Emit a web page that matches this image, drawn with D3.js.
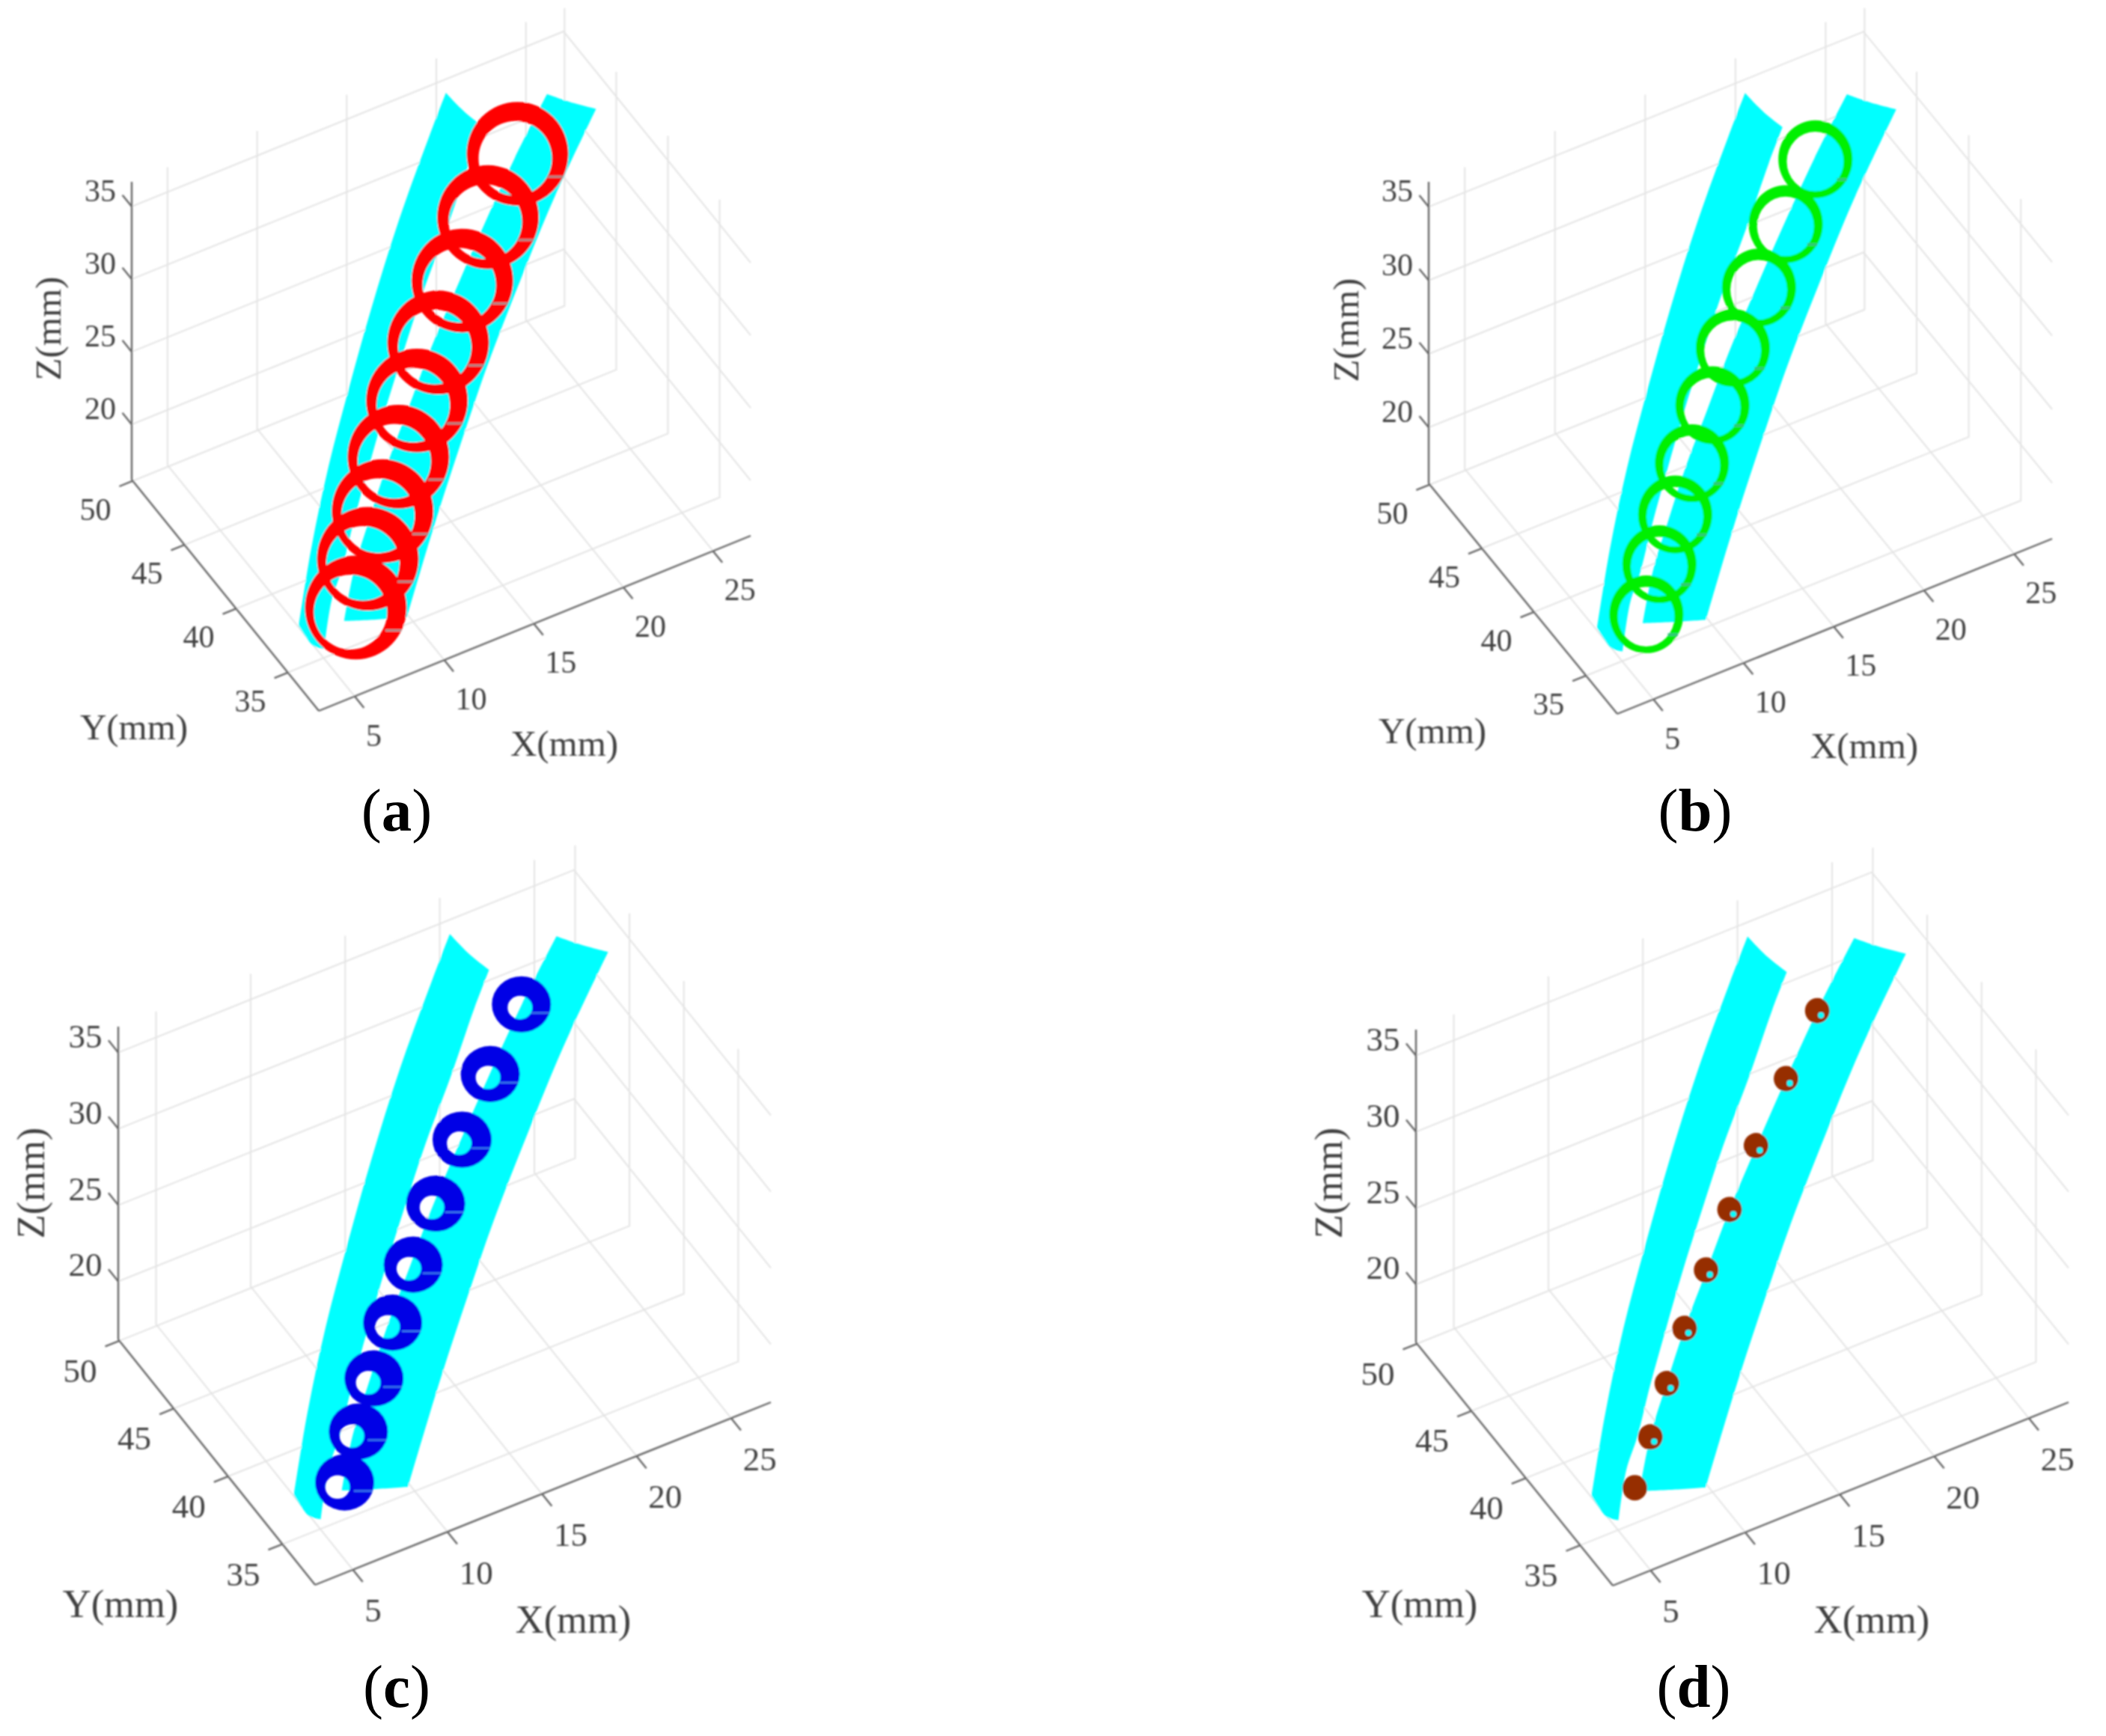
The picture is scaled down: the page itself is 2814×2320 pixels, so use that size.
<!DOCTYPE html>
<html>
<head>
<meta charset="utf-8">
<script src="https://cdn.jsdelivr.net/npm/d3@7"></script>
<style>
  html, body { margin: 0; padding: 0; background: #fff; }
  text { font-family: "Liberation Serif", serif; fill: #404040; }
</style>
</head>
<body>
<div class="chart"></div>
<script>
/* globals d3 */
// axis ticks, same for the four panels
const xTicks = [5, 10, 15, 20, 25];
const yTicks = [35, 40, 45, 50];
const zTicks = [20, 25, 30, 35];
const xDomain = [3, 27.1];
const yDomain = [32, 50.1];
const zDomain = [16.2, 36.7];

// the two cyan strips, [X, Y, Z] in mm. each edge is its own list
const leftOuter = [
  [19.9, 49, 35.35], [18.4, 48, 34], [15.55, 46, 31.4], [12.55, 43.5, 28.95],
  [9.55, 40.5, 27.5], [7.3, 38.5, 25.2], [4.9, 36, 23], [3.03, 34, 20.3]
];
const leftFoot = [[3.03, 34, 20.3], [3.4, 34, 19.4], [3.85, 34, 18.5], [4.45, 34, 18]];
const leftInner = [
  [4.45, 34, 18], [5.15, 34.5, 20.5], [6.3, 35.5, 21.2], [7.85, 37, 22.5], [9.55, 38.5, 24.05],
  [11.3, 40, 25.65], [13.2, 41.5, 27.45], [15.45, 43.5, 28.7], [17.65, 45, 30.7],
  [20.05, 47, 32.2], [21.4, 48, 33.15]
];
const leftCap = [[21.4, 48, 33.15], [20.65, 48.5, 34.1], [19.9, 49, 35.35]];

const rightOuter = [
  [26.55, 46, 33.55], [22.7, 43.5, 31.35], [19.4, 41, 29.6], [16.45, 39, 27.1],
  [13.9, 37, 25.1], [11.45, 35, 23.2], [9.2, 33, 21.65], [8.2, 32.5, 19.6]
];
const rightFoot = [[8.2, 32.5, 19.6], [6.5, 32.5, 20.3], [4.7, 32.5, 21.1]];
const rightInner = [
  [4.7, 32.5, 21.1], [5.85, 33.5, 23.25], [7.25, 34.5, 25], [9.1, 36, 26.5], [11.1, 37.5, 27.9],
  [13.2, 39, 29.6], [15.75, 41, 30.65], [18.2, 42.5, 32.6], [21.15, 44.5, 34.2], [24.1, 46.5, 35.35]
];
const rightCap = [[24.1, 46.5, 35.35], [25.4, 46.5, 34.15], [26.55, 46, 33.55]];

// spot centres along the seam, one list per panel
const spotsA = [
  [5.35, 32.5, 21.7], [6.6, 33.5, 23.55], [8, 34.5, 25.25], [9.75, 36, 26.8], [11.65, 37.5, 28.4],
  [13.7, 39, 30.05], [16.2, 41, 31.3], [18.5, 42.5, 33.2], [21.3, 44.5, 34.4]
];
const spotsB = [
  [4.9, 32.5, 21.6], [6.2, 33.5, 23.5], [7.65, 34.5, 25.3], [9.45, 36, 26.6], [11.45, 37.5, 28.25],
  [13.45, 39, 29.85], [16.05, 41, 30.95], [18.4, 42.5, 32.8], [21.2, 44.5, 34.1]
];
const spotsC = [
  [4.85, 32.5, 21.55], [6.15, 33.5, 23.35], [7.55, 34.5, 25.25], [9.4, 36, 26.65], [11.35, 37.5, 28.15],
  [13.4, 39, 29.8], [15.95, 41, 30.95], [18.3, 42.5, 32.75], [21.1, 44.5, 34.15]
];
const spotsD = [
  [4.45, 32.5, 21.45], [5.85, 33.5, 23.2], [7.3, 34.5, 25.1], [9.1, 36, 26.5], [11.1, 37.5, 28],
  [13.2, 39, 29.6], [15.75, 41, 30.75], [18.2, 42.5, 32.6], [21, 44.5, 33.9]
];
// how far the hole sits off centre, bottom spot to top spot
const holeLean = [1, 0.88, 0.75, 0.63, 0.5, 0.38, 0.25, 0.13, 0];

const width = 2814,
  height = 2320;

// front: corner of the floor, xv/yv/zv: where the full axis range ends up, in px
const panels = [
  {
    name: "a", spots: spotsA, color: "#ff0000", seam: "#b08a8a", seamWidth: 3, R: 68, ky: 1.02, r: 49, base: [-3, 6], lean: [-4, 0], seamY: 30,
    front: [426, 950], xv: [577, -234], yv: [-250, -309], zv: [0, -398], tickSize: 42, titleSize: 49,
    xTitle: [754, 993], yTitle: [179, 971], zTitle: [64, 439], tag: [530, 1083], k: 1
  },
  {
    name: "b", spots: spotsB, color: "#00f000", seam: "#30c878", seamWidth: 4, R: 49.5, ky: 1.05, r: 38, base: [-0.3, 3], lean: [0, 0], seamY: 26,
    front: [2161, 954], xv: [581, -234], yv: [-252, -308], zv: [0, -403], tickSize: 42, titleSize: 49,
    xTitle: [2491, 996], yTitle: [1914, 976], zTitle: [1798, 441], tag: [2265, 1083], k: 1
  },
  {
    name: "c", spots: spotsC, color: "#0000e6", seam: "#3a7ae8", seamWidth: 2.5, R: 39.5, ky: 0.95, r: 16.5, base: [-2, 4.5], lean: [-7.5, 2], seamY: 12,
    front: [421, 2118], xv: [609, -244], yv: [-263, -328], zv: [0, -418], tickSize: 45, titleSize: 52.5,
    xTitle: [766, 2164], yTitle: [161, 2143], zTitle: [41, 1581], tag: [530, 2254], k: 1.05
  },
  {
    name: "d", spots: spotsD, color: "#962d02", R: 16.5, ky: 1.03, r: 4, base: [5, 6], lean: [0, 0],
    front: [2155, 2119], xv: [609, -245], yv: [-263, -325], zv: [0, -418], tickSize: 45, titleSize: 52.5,
    xTitle: [2501, 2164], yTitle: [1897, 2143], zTitle: [1775, 1581], tag: [2263, 2254], k: 1.05
  }
];

// scales give the position along each axis as 0..1, the panel vectors turn it into px
const xScale = d3.scaleLinear().domain(xDomain).range([0, 1]);
const yScale = d3.scaleLinear().domain(yDomain).range([0, 1]);
const zScale = d3.scaleLinear().domain(zDomain).range([0, 1]);

const svg = d3
  .select(".chart")
  .append("svg")
  .attr("width", width)
  .attr("height", height);

// the reference is a soft upscaled bitmap
const soft = svg.append("defs").append("filter").attr("id", "soft");
soft.append("feGaussianBlur").attr("stdDeviation", 0.8);

const edge = d3.line().curve(d3.curveCatmullRom.alpha(0.5));

panels.forEach((p) => {
  const project = (d) => {
    const a = xScale(d[0]),
      b = yScale(d[1]),
      c = zScale(d[2]);
    return [
      p.front[0] + a * p.xv[0] + b * p.yv[0] + c * p.zv[0],
      p.front[1] + a * p.xv[1] + b * p.yv[1] + c * p.zv[1],
    ];
  };

  const g = svg.append("g").attr("class", "panel-" + p.name).attr("filter", "url(#soft)");

  const [x0, x1] = xDomain,
    [y0, y1] = yDomain,
    [z0, z1] = zDomain;

  // grid on floor and the two back walls
  const gridLines = [];
  xTicks.forEach((t) => {
    gridLines.push([[t, y0, z0], [t, y1, z0], [t, y1, z1]]);
  });
  yTicks.forEach((t) => {
    gridLines.push([[x0, t, z0], [x1, t, z0], [x1, t, z1]]);
  });
  zTicks.forEach((t) => {
    gridLines.push([[x0, y1, t], [x1, y1, t], [x1, y0, t]]);
  });

  g.selectAll(".grid")
    .data(gridLines)
    .join("path")
    .attr("class", "grid")
    .attr("d", (d) => d3.line()(d.map(project)))
    .attr("fill", "none")
    .attr("stroke", "#e4e4e4")
    .attr("stroke-width", 2);

  // axis lines
  const axisLines = [
    [[x0, y0, z0], [x1, y0, z0]],
    [[x0, y0, z0], [x0, y1, z0]],
    [[x0, y1, z0], [x0, y1, z1]],
  ];
  // tick marks
  xTicks.forEach((t) => axisLines.push([[t, y0, z0], [t, y0 - 0.9, z0]]));
  yTicks.forEach((t) => axisLines.push([[x0, t, z0], [x0 - 0.75, t, z0]]));
  zTicks.forEach((t) => axisLines.push([[x0, y1, t], [x0, y1 + 0.9, t]]));

  g.selectAll(".axis")
    .data(axisLines)
    .join("path")
    .attr("class", "axis")
    .attr("d", (d) => d3.line()(d.map(project)))
    .attr("fill", "none")
    .attr("stroke", "#666")
    .attr("stroke-width", 2.4);

  // strips, edges joined so the corners stay sharp
  const outline = (edges) =>
    edges
      .map((e, i) => {
        const s = edge(e.map(project));
        return i ? "L" + s.slice(1) : s;
      })
      .join("") + "Z";

  g.selectAll(".strip")
    .data([
      [leftOuter, leftFoot, leftInner, leftCap],
      [rightOuter, rightFoot, rightInner, rightCap],
    ])
    .join("path")
    .attr("class", "strip")
    .attr("d", outline)
    .attr("fill", "#00ffff");

  // spots: outer disc with an off-centre hole
  const spot = g
    .selectAll(".spot")
    .data(p.spots.map((d, i) => ({ c: project(d), lean: holeLean[i], i: i })))
    .join("g")
    .attr("class", "spot")
    .attr("transform", (d) => "translate(" + d.c[0] + "," + d.c[1] + ") scale(1," + p.ky + ")");

  spot
    .append("path")
    .attr("fill", p.color)
    .attr("fill-rule", "evenodd")
    .attr("d", (d) => {
      const path = d3.path();
      path.arc(0, 0, p.R, 0, 2 * Math.PI);
      path.closePath();
      // first spot of panel d has no visible hole
      if (p.name === "d" && d.i === 0) return path.toString();
      const hx = p.base[0] + d.lean * p.lean[0],
        hy = p.base[1] + d.lean * p.lean[1];
      path.moveTo(hx + p.r, hy);
      path.arc(hx, hy, p.r, 0, 2 * Math.PI);
      path.closePath();
      return path.toString();
    });

  // small seam where the disc is closed
  if (p.seam) {
    spot
      .append("line")
      .attr("x1", Math.sqrt(Math.max(0, p.r * p.r - p.seamY * p.seamY)) + 1)
      .attr("x2", Math.sqrt(p.R * p.R - p.seamY * p.seamY))
      .attr("y1", p.seamY)
      .attr("y2", p.seamY)
      .attr("stroke", p.seam)
      .attr("stroke-width", p.seamWidth);
  }

  // tick labels
  const tickText = (values, pos, dx, dy, anchor) =>
    g
      .append("g")
      .selectAll("text")
      .data(values)
      .join("text")
      .attr("x", (t) => project(pos(t))[0] + dx * p.k)
      .attr("y", (t) => project(pos(t))[1] + dy * p.k)
      .attr("text-anchor", anchor)
      .attr("dominant-baseline", "central")
      .attr("font-size", p.tickSize)
      .text((t) => t);

  tickText(xTicks, (t) => [t, y0, z0], 15, 52, "start");
  tickText(yTicks, (t) => [x0, t, z0], -50, 38, "middle");
  tickText(zTicks, (t) => [x0, y1, t], -42, -21, "middle");

  // axis titles
  g.append("text")
    .attr("x", p.xTitle[0])
    .attr("y", p.xTitle[1])
    .attr("text-anchor", "middle")
    .attr("dominant-baseline", "central")
    .attr("font-size", p.titleSize)
    .text("X(mm)");
  g.append("text")
    .attr("x", p.yTitle[0])
    .attr("y", p.yTitle[1])
    .attr("text-anchor", "middle")
    .attr("dominant-baseline", "central")
    .attr("font-size", p.titleSize)
    .text("Y(mm)");
  g.append("text")
    .attr("transform", "translate(" + p.zTitle[0] + "," + p.zTitle[1] + ") rotate(-90)")
    .attr("text-anchor", "middle")
    .attr("dominant-baseline", "central")
    .attr("font-size", p.titleSize)
    .text("Z(mm)");

  // panel tag, letter in bold
  const tag = svg
    .append("text")
    .attr("x", p.tag[0])
    .attr("y", p.tag[1])
    .attr("text-anchor", "middle")
    .attr("dominant-baseline", "central")
    .attr("font-size", 81)
    .style("fill", "#000");
  tag.append("tspan").text("(");
  tag.append("tspan").attr("font-weight", "bold").text(p.name);
  tag.append("tspan").text(")");
});
</script>
</body>
</html>
